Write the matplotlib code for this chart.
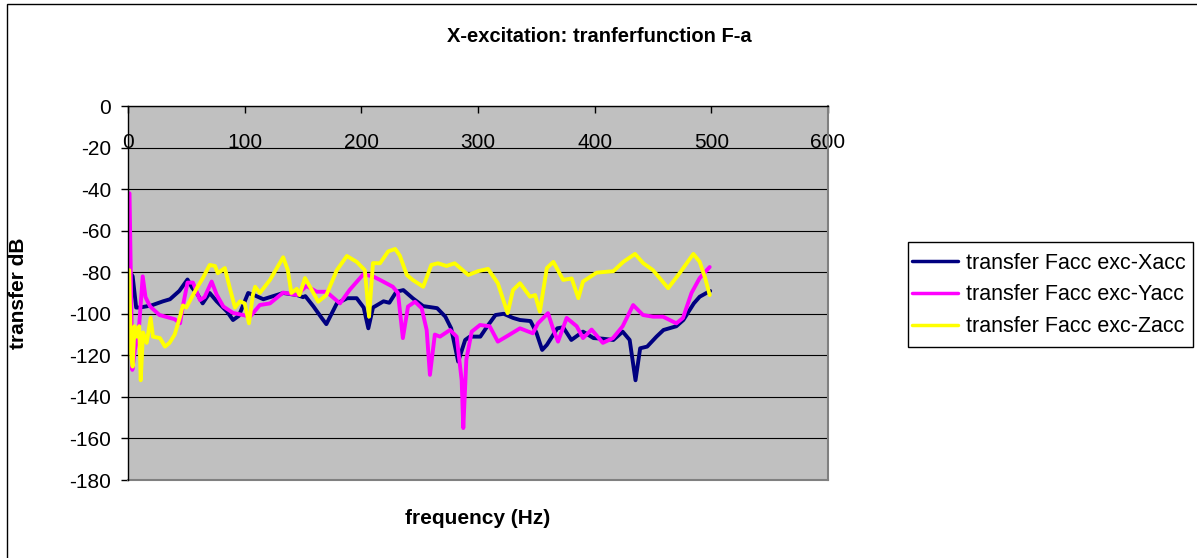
import matplotlib
matplotlib.use("Agg")
import matplotlib.pyplot as plt
from matplotlib.patches import Rectangle

plt.rcParams['font.family'] = ['Liberation Sans', 'DejaVu Sans']

title = "X-excitation: tranferfunction F-a"
xlabel = "frequency (Hz)"
ylabel = "transfer dB"
series_names = ["transfer Facc exc-Xacc", "transfer Facc exc-Yacc", "transfer Facc exc-Zacc"]
series_colors = ["#000080", "#FF00FF", "#FFFF00"]
xticks = [0, 100, 200, 300, 400, 500, 600]
yticks = [0, -20, -40, -60, -80, -100, -120, -140, -160, -180]

freq_x = [2, 4, 7, 10, 20, 30, 36, 44, 51, 55, 60, 64, 70, 76, 85, 90, 95, 103, 108, 116,
          133, 145, 150, 152, 159, 166, 170, 179, 188, 196, 202, 206, 210, 219, 224, 230,
          236, 244, 253, 265, 272, 277, 283, 289, 293, 302, 308, 315, 322, 330, 336, 345,
          350, 355, 359, 368, 373, 380, 390, 399, 407, 416, 424, 430, 435, 439, 445, 453,
          459, 470, 476, 485, 490, 499]
db_x = [-80, -82, -97, -97, -96, -94, -93, -89, -83.5, -87.5, -91, -95, -90, -94, -99, -103,
        -101, -90, -91, -93, -90, -91, -92, -91.5, -96.5, -102, -105, -95, -92.5, -92.5, -97,
        -107, -97, -94, -94.7, -89.4, -88.6, -92.5, -96.3, -97.3, -101.4, -107, -123, -112.6,
        -111, -111, -106, -100.6, -100, -102, -103, -103.5, -109, -117.4, -115, -107, -106.5,
        -112.6, -108.6, -111.7, -112, -112.6, -108.6, -112.6, -132, -116.6, -115.8, -111,
        -107.8, -106, -103, -95, -91.8, -89]

freq_y = [1.3, 3.7, 6, 9, 12.6, 15, 19, 27, 40, 44.6, 47, 51, 55.7, 61.7, 65.6, 71.7, 76,
          81.7, 90, 98.6, 104.6, 113, 121.7, 133, 144.6, 153, 161.7, 170, 181.7, 190, 201.7,
          210, 216, 227, 231.4, 235.6, 240, 246, 251.7, 256, 258.8, 263, 267.4, 276, 281.7,
          286, 287.4, 290, 294.6, 301.7, 310, 317, 325.7, 336, 347, 351.4, 360, 364.6, 368.6,
          376, 384.6, 390, 397.4, 407, 415.7, 424, 433, 441.4, 450, 458.6, 470, 475.7, 483,
          490, 498.6]
db_y = [-42, -127, -117, -110, -82, -92, -96.5, -100.6, -102.6, -104.6, -96.4, -85, -85,
        -93.4, -92, -84.5, -90.8, -96.5, -99.6, -100.6, -101.4, -95.8, -95, -89.8, -91,
        -86.6, -89.4, -89.4, -95, -88.5, -81, -82, -83.7, -87, -90, -111.7, -96.5, -94.2,
        -97.3, -107.8, -129.4, -110, -111, -107.8, -111, -132, -155, -122, -108.6, -105.4,
        -106, -113.4, -110.5, -107, -109.4, -104.6, -99.7, -107.6, -113.4, -102, -106,
        -111.7, -107.6, -114, -111.7, -106, -95.8, -100.6, -101.4, -101.4, -104.6, -102,
        -90, -82.8, -77.5]

freq_z = [1, 2.5, 4, 5.5, 7.5, 9.6, 10.9, 12.9, 16, 19.4, 21.4, 27.4, 31.7, 35.6, 40, 44.6,
          47, 50, 55.7, 59.6, 64, 70, 74.6, 77, 83, 87, 91.7, 96, 100, 103.7, 107, 109, 113,
          121.7, 133, 137, 140, 144.6, 147, 151.7, 156, 163, 170, 179, 187.6, 196, 203,
          206.6, 210, 216, 223, 229, 233, 239, 244, 253, 260, 265.7, 273, 280, 291.7, 300,
          308.6, 317, 325.4, 330, 336, 344.6, 349, 353, 359, 364.6, 373, 380.3, 386, 390,
          401.7, 416, 424.6, 434.6, 441.7, 450, 463, 473, 484.6, 490, 494.6, 498.6]
db_z = [-79, -119, -125.4, -106, -111, -106, -132, -109, -114, -102, -111, -111.7, -115.8,
        -114, -110, -101.4, -96, -97, -91, -87, -83, -76.5, -77, -80.5, -78, -87, -97, -94,
        -95, -104.6, -91, -87, -90, -83.7, -72.8, -79, -90, -88, -91, -82.8, -87, -94.2,
        -91, -79, -72.2, -75, -79, -101.4, -75.6, -75.7, -70, -68.8, -72, -81.3, -83.7,
        -87, -76.5, -75.7, -77, -75.7, -81.3, -79.5, -78.4, -85.3, -99.7, -88.6, -85.3,
        -91.8, -91, -99, -78, -75, -83.7, -83, -92.5, -84.5, -80.2, -79.5, -75, -71.2,
        -75.7, -79, -87.7, -80.3, -71.2, -75, -82.6, -91]

W, H = 1197, 558
fig = plt.figure(figsize=(W / 100, H / 100), dpi=100)
fig.patch.set_facecolor("white")
ax = fig.add_axes([128 / W, 1 - 480 / H, 700 / W, 374 / H])
ax.set_facecolor("#C0C0C0")

for fx, dbv, name, col in [(freq_x, db_x, series_names[0], series_colors[0]),
                           (freq_y, db_y, series_names[1], series_colors[1]),
                           (freq_z, db_z, series_names[2], series_colors[2])]:
    ax.plot(fx, dbv, color=col, lw=2.8, label=name, solid_joinstyle='round',
            solid_capstyle='round', zorder=3)

ax.set_xlim(0, 600)
ax.set_ylim(-180, 0)
ax.set_xticks(xticks)
ax.set_yticks(yticks)
ax.set_yticklabels([str(v) for v in yticks])
ax.yaxis.grid(True, color="black", lw=0.8)
ax.set_axisbelow(True)

for s in ["right", "bottom"]:
    ax.spines[s].set_color("#808080")
    ax.spines[s].set_linewidth(1.5)
for s in ["left", "top"]:
    ax.spines[s].set_color("black")
    ax.spines[s].set_linewidth(1.0)
    ax.spines[s].set_zorder(4)

ax.tick_params(axis='x', top=True, bottom=False, labeltop=True, labelbottom=False,
               direction='in', length=5, width=1, pad=-33, labelsize=15)
ax.tick_params(axis='y', direction='out', length=5, width=1, pad=7, labelsize=15)
for lab in ax.get_xticklabels():
    lab.set_zorder(5)

fig.text(599 / W, 1 - 36 / H, title, ha='center', va='center', fontsize=14.5, fontweight='bold')
fig.text(478 / W, 1 - 519 / H, xlabel, ha='center', va='center', fontsize=15, fontweight='bold')
fig.text(19 / W, 1 - 293 / H, ylabel, ha='center', va='center', rotation=90, fontsize=15,
         fontweight='bold')

leg = fig.legend(loc='center left', bbox_to_anchor=(912 / W, 1 - 295 / H), fontsize=15.5,
                 frameon=False, handlelength=2.15, handletextpad=0.37, labelspacing=0.5,
                 borderpad=0, borderaxespad=0)
for line in leg.get_lines():
    line.set_linewidth(2.5)

# legend frame
fig.add_artist(Rectangle((908 / W, 1 - 347 / H), 285 / W, 105 / H, transform=fig.transFigure,
                         fill=False, edgecolor='black', lw=1.0))
# outer chart border
fig.add_artist(Rectangle((7 / W, -0.02), 1.1, 1 - 4 / H + 0.02, transform=fig.transFigure,
                         fill=False, edgecolor='black', lw=1.0))

fig.savefig("out.png", dpi=100)
